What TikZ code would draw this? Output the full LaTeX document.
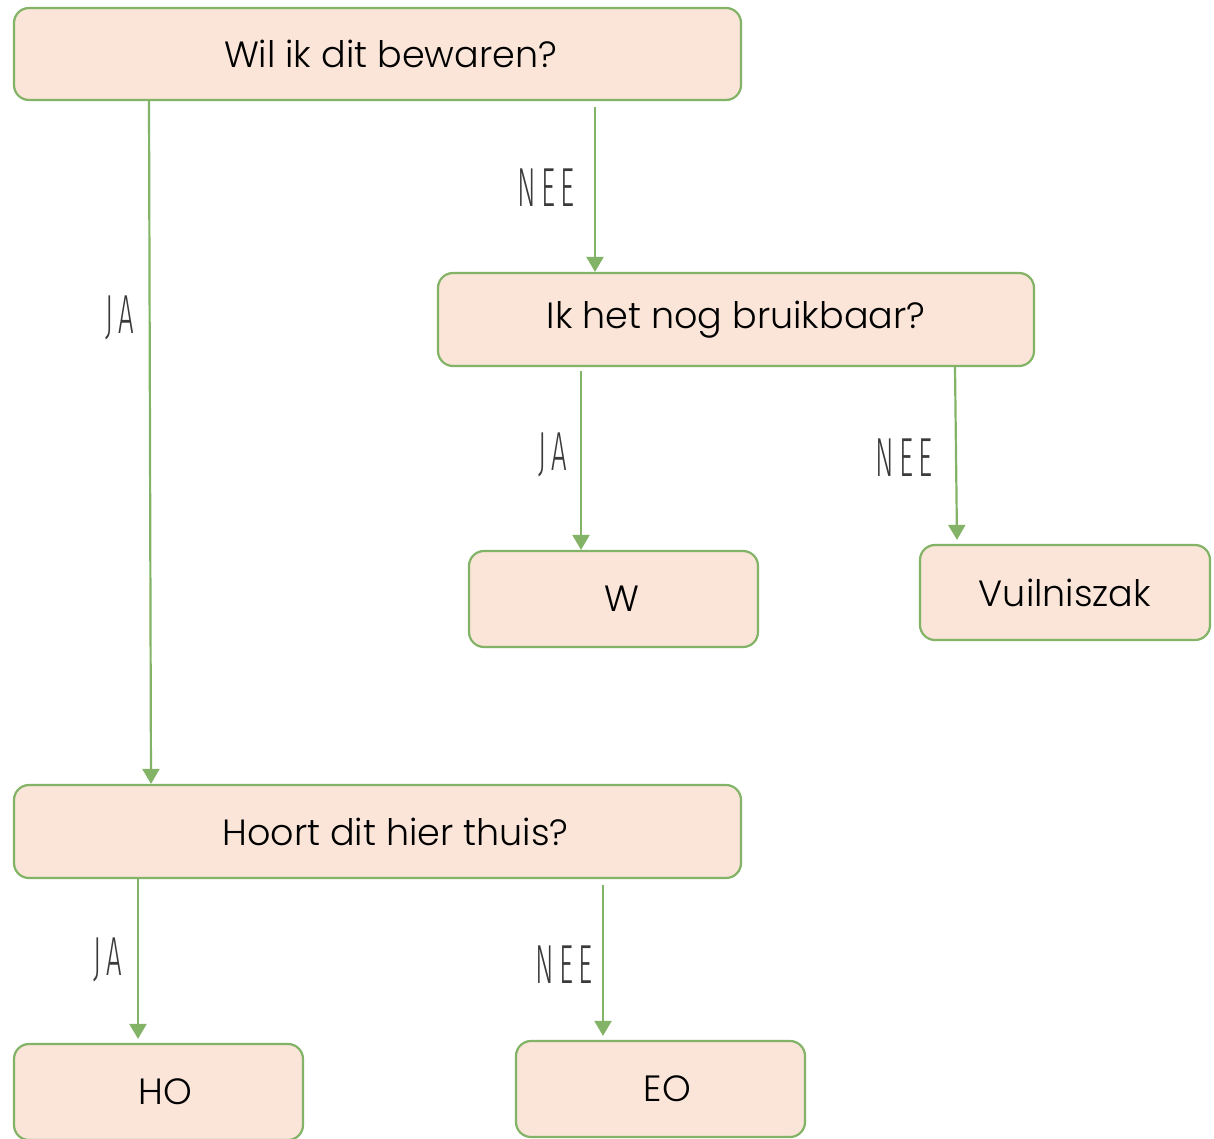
\documentclass[tikz,border=0pt]{standalone}
\usepackage{fontspec}
\usetikzlibrary{arrows.meta}
\newfontfamily\boxfont{Poppins Light}
\newfontfamily\lblfont{Fira Sans Light}[FakeStretch=0.5,LetterSpace=10]
\definecolor{boxfill}{HTML}{FAE5D8}
\definecolor{boxline}{HTML}{82B366}
\definecolor{lblgray}{HTML}{3A3A3A}

\begin{document}
\begin{tikzpicture}[x=1pt,y=-1pt,
		box/.style={draw=boxline, fill=boxfill, line width=2.2pt, rounded corners=15pt, inner sep=0pt,
			font=\boxfont\fontsize{36.5}{42}\selectfont},
		arr/.style={draw=boxline, line width=2.2pt, -{Triangle[width=17pt,length=15pt]}},
		lbl/.style={inner sep=0pt, text=lblgray, font=\lblfont\fontsize{55}{60}\selectfont}]
			\useasboundingbox (0,0) rectangle (1214,1139);

			% boxes
			\draw node[box, minimum width=727pt, minimum height=92pt] (wil) at (377.5,54) {\hspace{26pt}Wil ik dit bewaren?};
			\draw node[box, minimum width=596pt, minimum height=93pt] (bruik) at (736,319.5) {Ik het nog bruikbaar?\hspace{14pt}};
			\draw node[box, minimum width=289pt, minimum height=96pt] (w) at (613.5,599) {\hspace{16pt}W};
			\draw node[box, minimum width=290pt, minimum height=95pt] (vuil) at (1065,592.5) {Vuilniszak};
			\draw node[box, minimum width=727pt, minimum height=93pt] (hoort) at (377.5,831.5) {\hspace{36pt}Hoort dit hier thuis?};
			\draw node[box, minimum width=289pt, minimum height=96pt] (ho) at (158.5,1092) {\hspace{14pt}HO};
			\draw node[box, minimum width=289pt, minimum height=96pt] (eo) at (660.5,1089) {\hspace{14pt}EO};

			% arrows
			\draw[arr] (wil.south -| 149,0) -- (hoort.north -| 151,0);
			\draw[arr] ([yshift=-6pt]wil.south -| 595,0) -- (bruik.north -| 595,0);
			\draw[arr] ([yshift=-4pt]bruik.south -| 581,0) -- (w.north -| 581,0);
			\draw[arr] (bruik.south -| 955,0) -- ([yshift=4pt]vuil.north -| 957,0);
			\draw[arr] (hoort.south -| 138,0) -- ([yshift=4pt]ho.north -| 138,0);
			\draw[arr] ([yshift=-6pt]hoort.south -| 603,0) -- ([yshift=4pt]eo.north -| 603,0);

			% labels
			\node[lbl] (ja1) at (120,318) {JA};
			\node[lbl] (nee1) at (546,188) {NEE};
			\node[lbl] (ja2) at (553,455) {JA};
			\node[lbl] (nee2) at (904,458) {NEE};
			\node[lbl] (ja3) at (108,960) {JA};
			\node[lbl] (nee3) at (564,965) {NEE};
		\end{tikzpicture}
\end{document}
